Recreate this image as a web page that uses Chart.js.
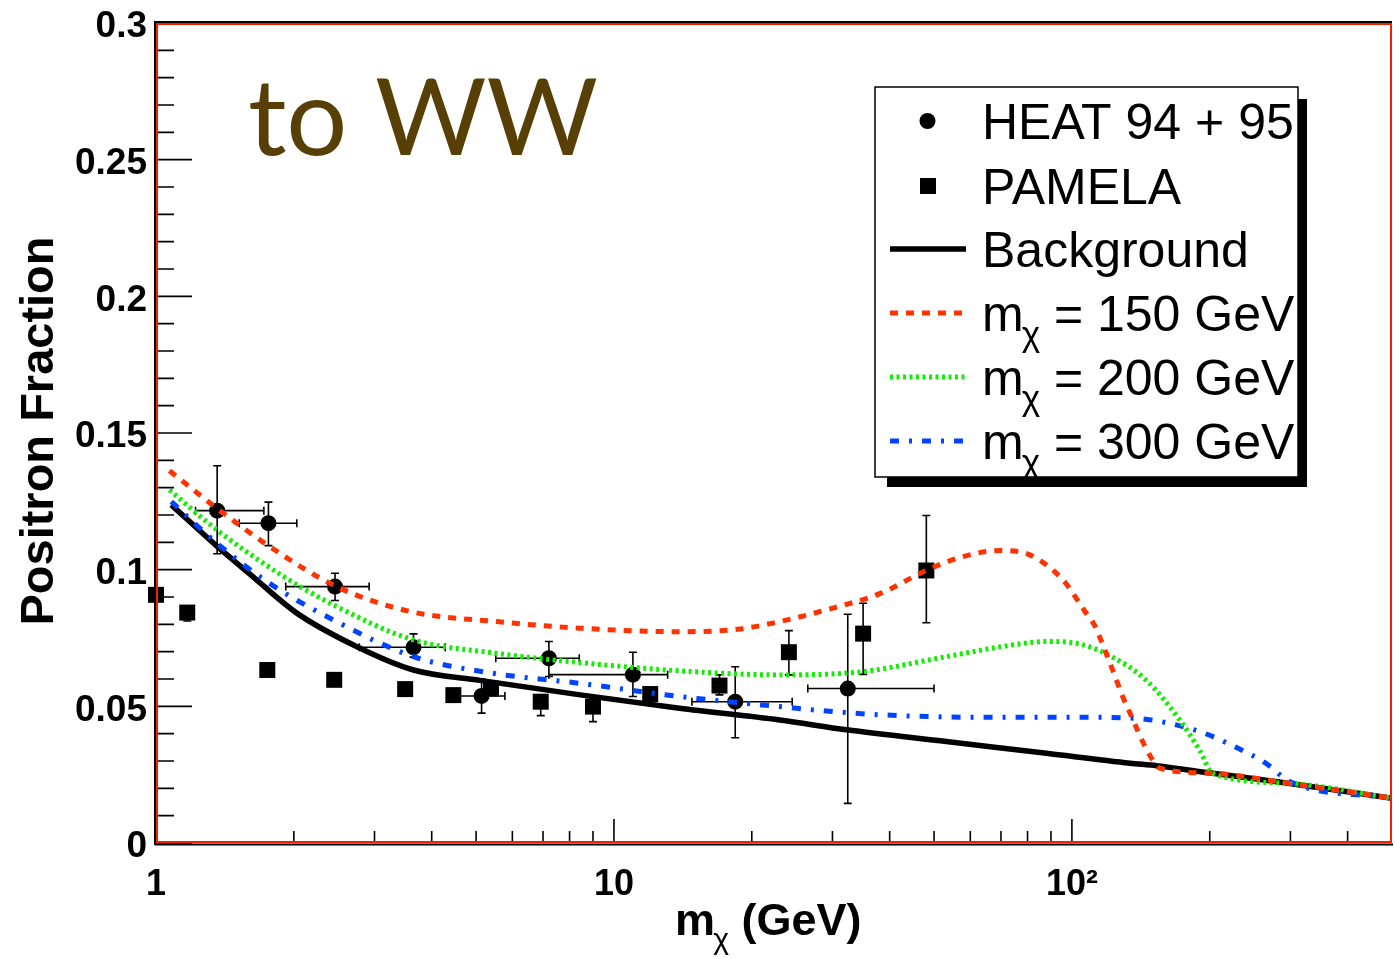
<!DOCTYPE html>
<html>
<head>
<meta charset="utf-8">
<style>
  html, body { margin: 0; padding: 0; background: #fff; }
  #chart { display: block; }
</style>
<script src="https://cdn.jsdelivr.net/npm/chart.js@4.4.1/dist/chart.umd.min.js"></script>
</head>
<body>
<canvas id="chart" width="1395" height="959"></canvas>
<script>
// HEAT 94 + 95 (circles, x and y errors)
const heatX   = [1.36, 1.76, 2.46, 3.65, 5.14, 7.21, 11.0, 18.4, 32.4];
const heatY   = [0.1216, 0.117, 0.0938, 0.0716, 0.0538, 0.0676, 0.0616, 0.0517, 0.0565];
const heatXLo = [1.22, 1.52, 1.92, 2.78, 4.61, 5.52, 7.21, 14.8, 26.5];
const heatXHi = [1.72, 2.03, 2.92, 4.28, 5.78, 8.4, 13.1, 24.5, 50.0];
const heatYLo = [0.1058, 0.1088, 0.0887, 0.068, 0.0475, 0.0609, 0.0536, 0.0385, 0.0145];
const heatYHi = [0.138, 0.1247, 0.0987, 0.0765, 0.060, 0.0737, 0.0698, 0.0645, 0.0837];

// PAMELA (squares, y errors)
const pamX   = [1.0, 1.17, 1.75, 2.45, 3.5, 4.46, 5.39, 6.92, 9.0, 12.0, 17.0, 24.1, 35.0, 48.1];
const pamY   = [0.0908, 0.0843, 0.0633, 0.0597, 0.0563, 0.0541, 0.0565, 0.0517, 0.0499, 0.0545, 0.0576, 0.0698, 0.0766, 0.0997];
const pamYLo = [0.0898, 0.0812, 0.0628, 0.0592, 0.0558, 0.0536, 0.0555, 0.0466, 0.0444, 0.0538, 0.0542, 0.0615, 0.0617, 0.0806];
const pamYHi = [0.0918, 0.0855, 0.0638, 0.0602, 0.0568, 0.0546, 0.0575, 0.0535, 0.0530, 0.0552, 0.0615, 0.0777, 0.0877, 0.1198];

// background
const bgX = [1.08, 1.36, 1.58, 2.03, 2.74, 3.65, 5.1, 8.44, 13.9, 23.0, 32.2, 53.2, 88, 134, 153, 203, 299, 500];
const bgY = [0.1237, 0.1085, 0.0993, 0.0841, 0.0719, 0.0633, 0.0595, 0.0542, 0.0493, 0.045, 0.0414, 0.0371, 0.0328, 0.0292, 0.0283, 0.0255, 0.0218, 0.0164];

// m = 150 GeV
const m150X = [1.07, 1.357, 1.77, 2.48, 3.59, 5.54, 8.44, 13.9, 18.6, 23, 29.1, 38.3, 48.3, 57.8, 69.8, 80.9, 95.5, 106.8, 112, 115.7, 122.7, 129.5, 134.5, 143.3, 149.3, 156, 203, 299, 500];
const m150Y = [0.1362, 0.1225, 0.1085, 0.0938, 0.0847, 0.081, 0.0786, 0.0773, 0.0782, 0.081, 0.0853, 0.0914, 0.0999, 0.1048, 0.107, 0.1054, 0.0963, 0.0847, 0.0798, 0.0743, 0.0633, 0.053, 0.0468, 0.0365, 0.031, 0.0273, 0.0255, 0.0218, 0.0164];

// m = 200 GeV
const m200X = [1.07, 1.357, 1.9, 2.48, 3.65, 5.54, 8.44, 13.9, 23, 35, 53.2, 74.5, 88, 104, 122, 145, 172, 190, 203, 299, 500];
const m200Y = [0.1292, 0.1146, 0.0975, 0.0865, 0.0743, 0.0694, 0.066, 0.063, 0.0615, 0.0627, 0.0682, 0.0725, 0.0737, 0.0728, 0.0682, 0.0597, 0.045, 0.034, 0.0255, 0.0218, 0.0164];

// m = 300 GeV
const m300X = [1.08, 1.357, 1.77, 2.44, 3.65, 5.44, 8.44, 13.9, 23, 29.1, 38.3, 63, 104, 134, 145, 169, 195, 227, 265, 299, 500];
const m300Y = [0.1249, 0.1097, 0.095, 0.0816, 0.0682, 0.0621, 0.0584, 0.0536, 0.0499, 0.0483, 0.0469, 0.046, 0.046, 0.0457, 0.0453, 0.0432, 0.0401, 0.0352, 0.0292, 0.0225, 0.0164];

// axes
const xMajorTicks = [1, 10, 100];
const xTickLabels = ['1', '10', '10\u00B2'];
const xMinorTicks = [2, 3, 4, 5, 6, 7, 8, 9, 20, 30, 40, 50, 60, 70, 80, 90, 200, 300, 400];
const yMajorTicks = [0, 0.05, 0.1, 0.15, 0.2, 0.25, 0.3];
const yTickLabels = ['0', '0.05', '0.1', '0.15', '0.2', '0.25', '0.3'];
const yMinorStep = 0.01;

const legendLabels = ['HEAT 94 + 95', 'PAMELA', 'Background', ' = 150 GeV', ' = 200 GeV', ' = 300 GeV'];

const RED = '#ff3300', GREEN = '#11ee00', BLUE = '#0044ff';
const HELV = '"Liberation Sans", Arial, Helvetica, sans-serif';

function pts(xs, ys) {
    return xs.map((v, i) => ({ x: v, y: ys[i] }));
}

const errorBars = {
    id: 'errorBars',
    beforeDatasetsDraw(chart) {
        const { ctx, scales: { x, y } } = chart;
        const cap = 4;
        ctx.save();
        ctx.strokeStyle = '#000';
        ctx.lineWidth = 1.6;
        ctx.beginPath();
        heatX.forEach((v, i) => {
            const px = x.getPixelForValue(v), py = y.getPixelForValue(heatY[i]);
            const x0 = x.getPixelForValue(heatXLo[i]), x1 = x.getPixelForValue(heatXHi[i]);
            const y0 = y.getPixelForValue(heatYLo[i]), y1 = y.getPixelForValue(heatYHi[i]);
            ctx.moveTo(x0, py); ctx.lineTo(x1, py);
            ctx.moveTo(x0, py - cap); ctx.lineTo(x0, py + cap);
            ctx.moveTo(x1, py - cap); ctx.lineTo(x1, py + cap);
            ctx.moveTo(px, y0); ctx.lineTo(px, y1);
            ctx.moveTo(px - cap, y0); ctx.lineTo(px + cap, y0);
            ctx.moveTo(px - cap, y1); ctx.lineTo(px + cap, y1);
        });
        pamX.forEach((v, i) => {
            const px = x.getPixelForValue(v);
            const y0 = y.getPixelForValue(pamYLo[i]), y1 = y.getPixelForValue(pamYHi[i]);
            ctx.moveTo(px, y0); ctx.lineTo(px, y1);
            ctx.moveTo(px - cap, y0); ctx.lineTo(px + cap, y0);
            ctx.moveTo(px - cap, y1); ctx.lineTo(px + cap, y1);
        });
        ctx.stroke();
        ctx.restore();
    }
};

// ROOT-style frame: ticks inside, red box with black axes
const frame = {
    id: 'frame',
    afterDatasetsDraw(chart) {
        const { ctx, chartArea: a, scales: { x, y } } = chart;
        ctx.save();
        ctx.strokeStyle = '#000';
        ctx.lineWidth = 1.6;
        ctx.beginPath();
        const nMinor = Math.round((y.max - y.min) / yMinorStep);
        for (let k = 0; k <= nMinor; k++) {
            const v = y.min + k * yMinorStep;
            const py = y.getPixelForValue(v);
            const len = k % 5 === 0 ? 36 : 18;
            ctx.moveTo(a.left, py); ctx.lineTo(a.left + len, py);
        }
        xMajorTicks.forEach(v => {
            const px = x.getPixelForValue(v);
            ctx.moveTo(px, a.bottom); ctx.lineTo(px, a.bottom - 24);
        });
        xMinorTicks.forEach(v => {
            const px = x.getPixelForValue(v);
            ctx.moveTo(px, a.bottom); ctx.lineTo(px, a.bottom - 12);
        });
        ctx.stroke();

        ctx.strokeStyle = '#ee2200';
        ctx.lineWidth = 2;
        ctx.strokeRect(a.left + 1, a.top + 1, a.right - a.left - 2, a.bottom - a.top - 2);
        ctx.strokeStyle = '#000';
        ctx.lineWidth = 2;
        ctx.beginPath();
        ctx.moveTo(a.left - 1, a.bottom + 2);
        ctx.lineTo(a.left - 1, a.top - 1);
        ctx.lineTo(a.right, a.top - 1);
        ctx.moveTo(a.left - 1, a.bottom + 1.5);
        ctx.lineTo(a.right + 1, a.bottom + 1.5);
        ctx.stroke();
        ctx.restore();
    }
};

function drawMchi(ctx, x0, base, big, small, bold, rest) {
    const w = bold ? 'bold ' : '';
    ctx.font = w + big + 'px ' + HELV;
    ctx.fillText('m', x0, base);
    let xx = x0 + ctx.measureText('m').width - big * 0.04;
    ctx.font = small + 'px ' + HELV;
    ctx.fillText('\u03C7', xx, base + big * 0.3);
    xx += ctx.measureText('\u03C7').width;
    ctx.font = w + big + 'px ' + HELV;
    ctx.fillText(rest, xx, base);
    return xx + ctx.measureText(rest).width;
}

const annotations = {
    id: 'annotations',
    afterDraw(chart) {
        const { ctx } = chart;
        const ds = chart.data.datasets;
        ctx.save();
        ctx.fillStyle = '#000';
        ctx.textBaseline = 'alphabetic';
        ctx.textAlign = 'left';

        // "to WW"
        ctx.save();
        ctx.font = '107px Lato, "Open Sans", sans-serif';
        const tw = ctx.measureText('to WW').width;
        ctx.translate(248, 155);
        ctx.scale(350 / tw, 1);
        ctx.fillStyle = '#573f06';
        ctx.fillText('to WW', 0, 0);
        ctx.restore();

        // y title
        ctx.save();
        ctx.translate(53, 431);
        ctx.rotate(-Math.PI / 2);
        ctx.font = 'bold 47px ' + HELV;
        ctx.textAlign = 'center';
        ctx.fillText('Positron Fraction', 0, 0);
        ctx.restore();

        // x title
        drawMchi(ctx, 675, 935, 45, 30, true, ' (GeV)');

        // legend
        ctx.fillStyle = '#000';
        ctx.fillRect(887, 99, 420, 388);
        ctx.fillStyle = '#fff';
        ctx.fillRect(875, 87, 423, 390);
        ctx.strokeStyle = '#000';
        ctx.lineWidth = 1.5;
        ctx.strokeRect(875, 87, 423, 390);

        const rows = [121, 186, 249, 313, 377, 441];
        const byLabel = name => ds.find(d => d.label === name);
        ctx.fillStyle = '#000';
        ctx.beginPath();
        ctx.arc(927.5, rows[0], 8, 0, 2 * Math.PI);
        ctx.fill();
        ctx.fillRect(920, rows[1] - 8, 16, 16);
        ['Background', 'm150', 'm200', 'm300'].forEach((name, i) => {
            const d = byLabel(name);
            ctx.save();
            ctx.strokeStyle = d.borderColor;
            ctx.lineWidth = d.borderWidth;
            ctx.setLineDash(d.borderDash || []);
            ctx.beginPath();
            ctx.moveTo(890, rows[i + 2]);
            ctx.lineTo(966, rows[i + 2]);
            ctx.stroke();
            ctx.restore();
        });
        ctx.fillStyle = '#000';
        ctx.font = '50px ' + HELV;
        for (let i = 0; i < 3; i++) {
            ctx.fillText(legendLabels[i], 982, rows[i] + 18);
        }
        for (let i = 3; i < 6; i++) {
            drawMchi(ctx, 982, rows[i] + 18, 50, 35, false, legendLabels[i]);
        }
        ctx.restore();
    }
};

document.addEventListener('DOMContentLoaded', function () {
    const ctx = document.getElementById('chart').getContext('2d');
    new Chart(ctx, {
        type: 'scatter',
        data: {
            datasets: [
                {
                    label: 'm150', data: pts(m150X, m150Y), showLine: true, pointRadius: 0,
                    borderColor: RED, borderWidth: 5, borderDash: [8, 8], cubicInterpolationMode: 'monotone'
                },
                {
                    label: 'm200', data: pts(m200X, m200Y), showLine: true, pointRadius: 0,
                    borderColor: GREEN, borderWidth: 5, borderDash: [3, 3.5], cubicInterpolationMode: 'monotone'
                },
                {
                    label: 'm300', data: pts(m300X, m300Y), showLine: true, pointRadius: 0,
                    borderColor: BLUE, borderWidth: 5, borderDash: [9, 10, 3, 10], cubicInterpolationMode: 'monotone'
                },
                {
                    label: 'Background', data: pts(bgX, bgY), showLine: true, pointRadius: 0,
                    borderColor: '#000', borderWidth: 5.5, cubicInterpolationMode: 'monotone'
                },
                {
                    label: 'HEAT', data: pts(heatX, heatY), pointStyle: 'circle', pointRadius: 8,
                    backgroundColor: '#000', borderColor: '#000', borderWidth: 0, clip: false
                },
                {
                    label: 'PAMELA', data: pts(pamX, pamY), pointStyle: 'rect', pointRadius: 11.3,
                    backgroundColor: '#000', borderColor: '#000', borderWidth: 0, clip: false
                }
            ]
        },
        options: {
            responsive: false,
            animation: false,
            events: [],
            layout: { autoPadding: false, padding: { top: 23, right: 3, left: 0, bottom: 0 } },
            plugins: {
                legend: { display: false },
                tooltip: { enabled: false }
            },
            scales: {
                x: {
                    type: 'logarithmic',
                    min: 1,
                    max: 500,
                    grid: { display: false, drawTicks: false },
                    border: { display: false },
                    afterBuildTicks: function (scale) {
                        scale.ticks = xMajorTicks.map(v => ({ value: v }));
                    },
                    afterFit: function (scale) {
                        scale.height = 116;
                        scale.paddingLeft = 0;
                        scale.paddingRight = 0;
                    },
                    ticks: {
                        autoSkip: false,
                        maxRotation: 0,
                        padding: 20,
                        color: '#000',
                        font: { family: HELV, size: 36, weight: 'bold' },
                        callback: function (value, index) {
                            return xTickLabels[index];
                        }
                    }
                },
                y: {
                    min: 0,
                    max: 0.3,
                    grid: { display: false, drawTicks: false },
                    border: { display: false },
                    afterBuildTicks: function (scale) {
                        scale.ticks = yMajorTicks.map(v => ({ value: v }));
                    },
                    afterFit: function (scale) {
                        scale.width = 156;
                        scale.paddingTop = 0;
                        scale.paddingBottom = 0;
                    },
                    ticks: {
                        padding: 9,
                        labelOffset: 4,
                        color: '#000',
                        font: { family: HELV, size: 37, weight: 'bold' },
                        callback: function (value, index) {
                            return yTickLabels[index];
                        }
                    }
                }
            }
        },
        plugins: [errorBars, frame, annotations]
    });
});
</script>
</body>
</html>
